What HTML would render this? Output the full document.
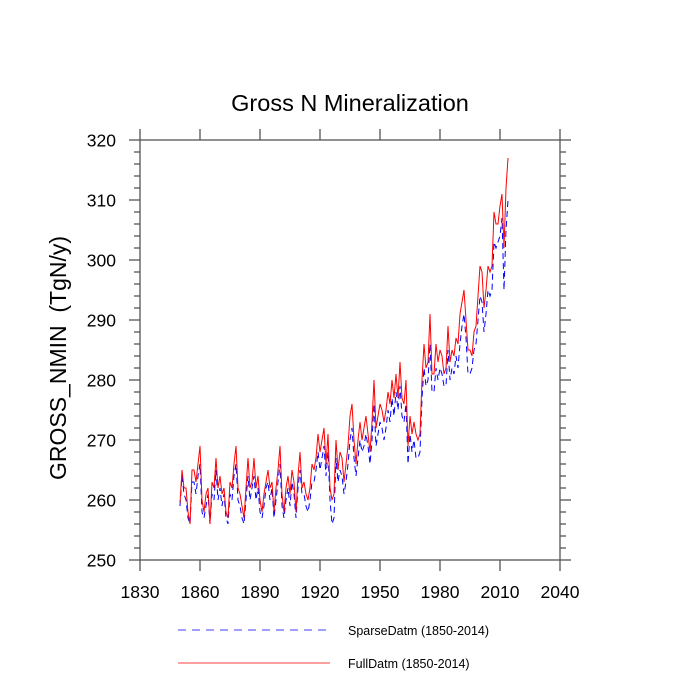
<!DOCTYPE html>
<html><head><meta charset="utf-8"><style>
body{margin:0;background:#fff;}
svg{display:block;font-family:"Liberation Sans",sans-serif;}
</style></head><body>
<svg id="chart" width="700" height="700">
<text x="350" y="111" text-anchor="middle" font-size="23.5">Gross N Mineralization</text>
<text transform="translate(66,358) rotate(-90)" text-anchor="middle" font-size="23" xml:space="preserve">GROSS_NMIN  (TgN/y)</text>
<g id="axes"></g>
<g id="series"></g>
<g id="legend"></g>
</svg>
<script>
const years0 = 1850;
const fullValues = [259.5,265,262,262,258,256,265,265,263,266,269,260,258,261,262,256,263,262,267,262,
264,261,262,258,257,263,262,266,269,262,261,259,257,262,267,262,263,267,262,264,
260,258,261,263,265,262,263,258,262,265,269,261,258,262,264,261,265,263,258,264,
268,262,263,261,260,262,266,265,267,271,268,270,272,266,271,262,260,261,270,265,
268,267,263,266,269,274,276,270,266,270,273,270,272,274,271,268,273,280,272,274,
276,275,273,275,278,276,280,277,281,277,283,277,276,280,269,274,271,273,271,270,
271,280,286,282,283,291,281,281,286,283,285,284,281,282,289,283,285,284,287,286,
291,293,295,290,285,285,284,288,289,294,299,298,292,295,299,298,299,308,306,306,
309,311,302,312,317];
const sparseValues = [259,264,261,260,257,256,263,263,261,264,266,258,257,259,261,256,261,260,265,260,
262,259,261,257,256,261,260,264,266,260,259,257,256,260,264,260,262,264,260,262,
258,257,259,262,263,260,262,257,260,263,266,259,257,260,262,259,263,261,257,262,
265,261,261,259,258,260,263,263,265,268,265,267,269,264,268,260,256,257,267,263,
265,264,261,263,266,270,272,267,264,267,270,268,269,271,269,266,270,276,269,271,
273,272,270,272,275,273,277,274,278,275,279,274,273,276,266,271,268,270,267,267,
268,277,282,279,280,286,278,278,282,280,282,281,279,279,285,280,282,281,284,282,
286,289,291,287,281,281,282,285,286,290,294,293,288,291,295,294,295,303,302,303,
304,307,295,305,310];
const xTicks = [1830,1860,1890,1920,1950,1980,2010,2040];
const yTicks = [250,260,270,280,290,300,310,320];
const legendLabels = ["SparseDatm (1850-2014)","FullDatm (1850-2014)"];

const NS="http://www.w3.org/2000/svg";
const X0=140,X1=560,Y0=560,Y1=140;
const xs=v=>X0+(v-1830)/(2040-1830)*(X1-X0);
const ys=v=>Y0-(v-250)/(320-250)*(Y0-Y1);
function mk(t,a,p){const e=document.createElementNS(NS,t);for(const k in a)e.setAttribute(k,a[k]);p.appendChild(e);return e;}
const ax=document.getElementById('axes');
const frame=mk('rect',{x:X0,y:Y1,width:X1-X0,height:Y0-Y1,fill:'none',stroke:'#555','stroke-width':1.3},ax);


xTicks.forEach(v=>{
  const x=xs(v);
  mk('line',{x1:x,y1:Y0,x2:x,y2:Y0+11,stroke:'#555','stroke-width':1.3},ax);
  mk('line',{x1:x,y1:Y1,x2:x,y2:Y1-11,stroke:'#555','stroke-width':1.3},ax);
  const t=mk('text',{x:x,y:598,'text-anchor':'middle','font-size':17.5},ax);
  t.textContent=v;
  
  
});
for(let v=250;v<=320;v+=2){
  const y=ys(v);const major=(v%10===0);const L=major?11:6;
  mk('line',{x1:X0,y1:y,x2:X0-L,y2:y,stroke:'#555','stroke-width':1.3},ax);
  mk('line',{x1:X1,y1:y,x2:X1+L,y2:y,stroke:'#555','stroke-width':1.3},ax);
}
yTicks.forEach(v=>{
  const t=mk('text',{x:116,y:ys(v)+6.5,'text-anchor':'end','font-size':17.5},ax);
  t.textContent=v;
  
  
});
const sg=document.getElementById('series');
function line(vals,color,dash,name){
  const d=vals.map((v,i)=>(i?'L':'M')+xs(years0+i).toFixed(1)+','+ys(v).toFixed(1)).join('');
  const p=mk('path',{d:d,fill:'none',stroke:color,'stroke-width':1,'stroke-dasharray':dash},sg);
  
  
}
line(sparseValues,'#0000ff','6,4','sparse-datm-line');
line(fullValues,'#ff0000','none','full-datm-line');
const lg=document.getElementById('legend');
[['#0000ff','8,6',630,'legend-sparse'],['#ff0000','none',663,'legend-full']].forEach((c,i)=>{
  const g=mk('g',{},lg);
  
  
  mk('line',{x1:178,y1:c[2],x2:330,y2:c[2],stroke:c[0],'stroke-width':0.8,'stroke-dasharray':c[1]},g);
  const t=mk('text',{x:348,y:c[2]+5,'font-size':12.5},g);
  t.textContent=legendLabels[i];
});
</script>
</body></html>
